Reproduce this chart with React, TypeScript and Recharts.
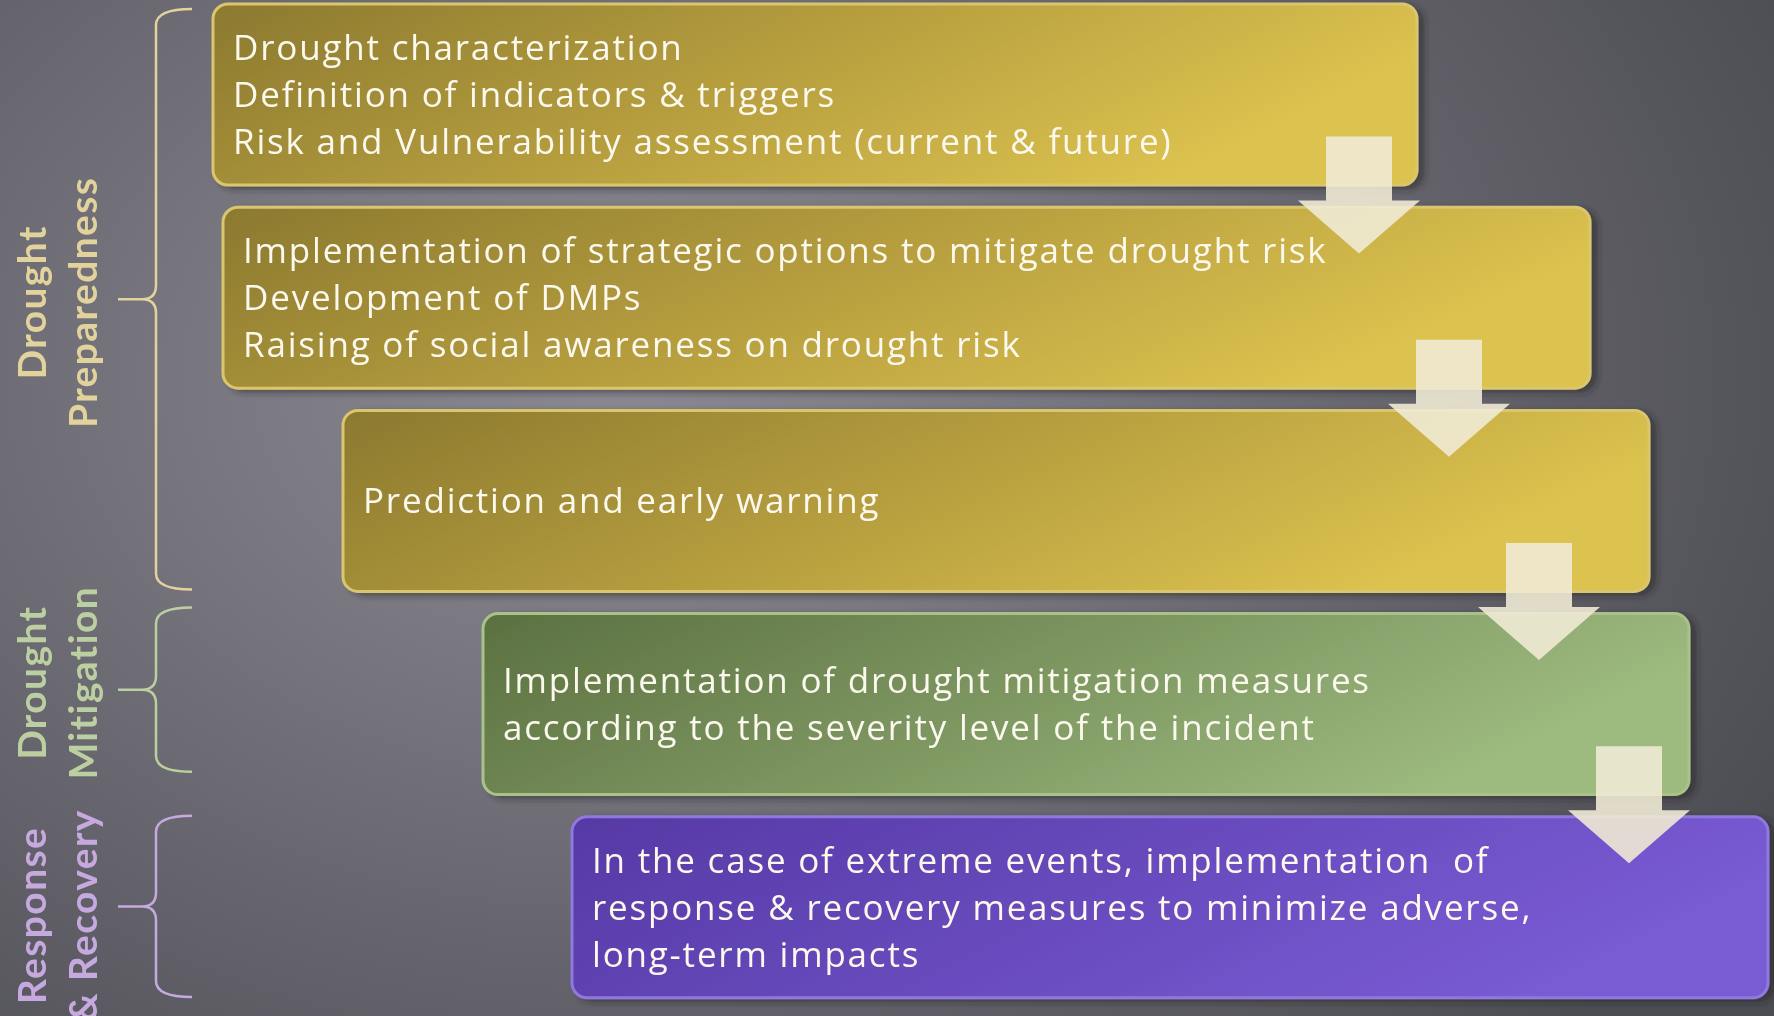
import React from 'react';
import { ComposedChart, Bar, Scatter, XAxis, YAxis, ReferenceArea } from 'recharts';

const W = 1774;
const H = 1016;

// ---- data ----
const steps = ['s1', 's2', 's3', 's4', 's5'];
const stepStart = [213, 223, 343, 483, 572];
const stepEnd = [1417, 1590, 1649, 1689, 1768];
const stepTheme = ['gold', 'gold', 'gold', 'green', 'purple'];
const stepLines: string[][] = [
  ['Drought characterization', 'Definition of indicators & triggers', 'Risk and Vulnerability assessment (current & future)'],
  ['Implementation of strategic options to mitigate drought risk', 'Development of DMPs', 'Raising of social awareness on drought risk'],
  ['Prediction and early warning'],
  ['Implementation of drought mitigation measures', 'according to the severity level of the incident'],
  ['In the case of extreme events, implementation  of', 'response & recovery measures to minimize adverse,', 'long-term impacts'],
];

const arrowSteps = ['s1', 's2', 's3', 's4'];
const arrowX = [1359, 1449, 1539, 1629];

const phaseLabels: string[][] = [['Drought', 'Preparedness'], ['Drought', 'Mitigation'], ['Response', '& Recovery']];
const phaseFrom = ['s1', 's4', 's5'];
const phaseTo = ['s3', 's4', 's5'];
const phaseColor = ['#e2d29c', '#bccfa0', '#c6a9de'];
const braceLeft = 118;
const braceRight = 192;

const chartData = steps.map((s, i) => ({ step: s, range: [stepStart[i], stepEnd[i]] }));
const arrowData = arrowSteps.map((s, i) => ({ step: s, x: arrowX[i] }));

// ---- styles ----
const themes: Record<string, { stroke: string }> = {
  gold: { stroke: '#d9c66e' },
  green: { stroke: '#a9c28c' },
  purple: { stroke: '#8f78de' },
};
const braceTrim = [[16, 13], [5, 34], [10, 12]];
const labelShift = [3, -7, 9];

const BOX_FONT = '"Open Sans", Lato, sans-serif';
const LABEL_FONT = 'Lato, "Open Sans", sans-serif';

const BoxShape = (props: any) => {
  const { x, y, width, height, index } = props;
  const th = stepTheme[index];
  const lines = stepLines[index];
  const cy = y + height / 2;
  return (
    <g>
      <rect x={x} y={y} width={width} height={height} rx={15} ry={15}
        fill={`url(#grad-${th})`} stroke={themes[th].stroke} strokeWidth={3} filter="url(#boxShadow)" />
      {lines.map((l, i) => (
        <text key={i} x={x + 20} y={cy + 12.5 + (i - (lines.length - 1) / 2) * 47}
          fill="#fbf8ee" fontFamily={BOX_FONT} fontSize={35} letterSpacing={1.8}
          style={{ whiteSpace: 'pre' }}>{l}</text>
      ))}
    </g>
  );
};

const ArrowShape = (props: any) => {
  const { cx, cy } = props;
  if (cx == null || cy == null) return null;
  const pts = [
    [cx - 33, cy + 42], [cx + 33, cy + 42], [cx + 33, cy + 106], [cx + 61, cy + 106],
    [cx, cy + 159], [cx - 61, cy + 106], [cx - 33, cy + 106],
  ].map((p) => p.join(',')).join(' ');
  return <polygon points={pts} fill="#f0ead4" fillOpacity={0.9} />;
};

const makeBrace = (idx: number) => (props: any) => {
  const { x, y, width, height } = props;
  const top = y + braceTrim[idx][0];
  const bottom = y + height - braceTrim[idx][1];
  const mid = (top + bottom) / 2;
  const vx = x + 38;
  const right = x + width;
  const d = [
    `M ${right} ${top} Q ${vx} ${top} ${vx} ${top + 16}`,
    `L ${vx} ${mid - 14} Q ${vx} ${mid} ${vx - 14} ${mid} L ${x} ${mid}`,
    `M ${vx - 14} ${mid} Q ${vx} ${mid} ${vx} ${mid + 14}`,
    `L ${vx} ${bottom - 16} Q ${vx} ${bottom} ${right} ${bottom}`,
  ].join(' ');
  const [l1, l2] = phaseLabels[idx];
  const ly = mid + labelShift[idx];
  const common = {
    textAnchor: 'middle' as const, dominantBaseline: 'central' as const, fill: phaseColor[idx],
    fontFamily: LABEL_FONT, fontWeight: 700, fontSize: 39, letterSpacing: 1.4,
  };
  return (
    <g>
      <path d={d} fill="none" stroke={phaseColor[idx]} strokeWidth={2.5} />
      <text transform={`translate(${x - 87},${ly}) rotate(-90)`} {...common}>{l1}</text>
      <text transform={`translate(${x - 36},${ly}) rotate(-90)`} {...common}>{l2}</text>
    </g>
  );
};

export default function App() {
  return (
    <div style={{
      position: 'fixed', left: 0, top: 0, width: W, height: H, overflow: 'hidden',
      background: 'radial-gradient(ellipse 1300px 950px at 620px 380px, #8a8890 0%, #7a7981 30%, #66656d 60%, #4c4c53 100%)',
    }}>
      <ComposedChart width={W} height={H} layout="vertical" data={chartData}
        margin={{ top: -7, right: 0, bottom: 7, left: 0 }}>
        <defs>
          <linearGradient id="grad-gold" x1="0" y1="0" x2="1" y2="0.3">
            <stop offset="0%" stopColor="#8b792f" />
            <stop offset="50%" stopColor="#b59d3e" />
            <stop offset="100%" stopColor="#dcc24f" />
          </linearGradient>
          <linearGradient id="grad-green" x1="0" y1="0" x2="1" y2="0.3">
            <stop offset="0%" stopColor="#5b7040" />
            <stop offset="100%" stopColor="#9dba7f" />
          </linearGradient>
          <linearGradient id="grad-purple" x1="0" y1="0" x2="1" y2="0.3">
            <stop offset="0%" stopColor="#5639a5" />
            <stop offset="100%" stopColor="#785bd3" />
          </linearGradient>
          <filter id="boxShadow" x="-5%" y="-10%" width="115%" height="130%">
            <feDropShadow dx="6" dy="3" stdDeviation="3" floodColor="#1c1c20" floodOpacity="0.5" />
          </filter>
        </defs>
        <XAxis type="number" domain={[0, W]} hide allowDataOverflow />
        <YAxis type="category" dataKey="step" hide allowDuplicatedCategory={false} />
        {phaseFrom.map((f, i) => (
          <ReferenceArea key={i} x1={braceLeft} x2={braceRight} y1={f} y2={phaseTo[i]}
            shape={makeBrace(i)} ifOverflow="visible" />
        ))}
        <Bar dataKey="range" barSize={181} shape={BoxShape} isAnimationActive={false} />
        <Scatter data={arrowData} dataKey="x" shape={ArrowShape} isAnimationActive={false} />
      </ComposedChart>
    </div>
  );
}
